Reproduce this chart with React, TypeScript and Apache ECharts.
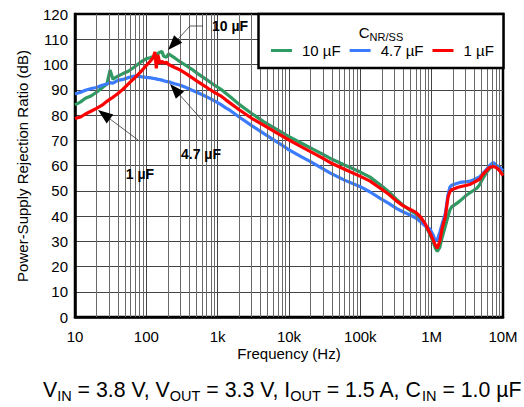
import React, { useEffect, useRef } from "react";
import * as echarts from "echarts";

// Frequency (Hz) shared by the three curves
const freqHz = [
  10, 12, 14, 17, 20, 24, 28, 31, 34, 40, 47, 56, 68, 82, 100, 115, 125, 132, 138, 145,
  155, 165, 175, 190, 205, 220, 250, 300, 360, 430, 520, 620, 750, 900, 1100, 1300, 1500, 2000, 3000, 4400,
  7000, 1e4, 1.5e4, 2e4, 3e4, 3.8e4, 6e4, 1e5, 1.37e5, 1.9e5, 2.5e5, 3.2e5, 4e5, 5e5, 6e5, 7e5, 8e5, 9.5e5, 1.05e6, 1.12e6,
  1.2e6, 1.3e6, 1.4e6, 1.55e6, 1.7e6, 1.8e6, 1.9e6, 2.3e6, 2.5e6, 3.1e6, 3.5e6, 4.3e6, 4.7e6, 5.2e6, 5.8e6, 6.5e6, 7.3e6, 8e6, 8.9e6, 1e7,
];

// PSRR (dB), C_NR/SS = 10 uF
const psrr10uF = [
  84.0, 85.2, 86.6, 87.6, 89.0, 90.8, 92.3, 97.8, 94.2, 95.4, 96.4, 97.3, 99.0, 100.8, 102.3, 102.8, 103.2, 103.5, 103.8, 104.3,
  104.9, 105.2, 103.3, 102.8, 104.2, 103.6, 102.6, 101.0, 99.6, 98.2, 96.5, 95.0, 93.4, 91.8, 90.3, 88.6, 87.2, 84.2, 80.6, 77.4,
  74.0, 71.4, 68.8, 67.0, 64.4, 62.8, 60.2, 57.4, 55.4, 52.4, 49.6, 46.7, 44.2, 42.2, 40.8, 39.0, 36.8, 32.6, 29.6, 27.4,
  26.0, 27.6, 31.4, 35.8, 40.0, 42.4, 43.6, 45.2, 46.0, 48.3, 49.3, 51.0, 52.4, 54.8, 57.0, 58.8, 60.2, 59.4, 58.2, 56.9,
];

// PSRR (dB), C_NR/SS = 4.7 uF
const psrr4p7uF = [
  88.3, 89.0, 89.8, 90.5, 90.9, 91.8, 92.3, 92.8, 92.6, 93.7, 94.1, 94.8, 95.4, 95.2, 94.9, 94.7, 94.5, 94.4, 94.3, 94.1,
  94.0, 93.8, 93.6, 93.3, 93.1, 92.9, 92.4, 91.8, 90.9, 89.9, 88.9, 87.9, 86.8, 85.6, 84.2, 82.8, 81.8, 79.2, 75.8, 72.7,
  69.1, 66.2, 63.4, 61.5, 58.7, 57.0, 54.2, 51.6, 49.5, 47.0, 45.0, 43.0, 41.6, 40.4, 39.2, 37.7, 36.2, 34.8, 32.4, 30.4,
  30.6, 33.6, 36.8, 40.8, 48.6, 51.4, 52.2, 53.0, 53.3, 53.6, 53.8, 55.0, 55.5, 56.8, 58.3, 60.0, 61.2, 60.2, 59.4, 58.0,
];

// PSRR (dB), C_NR/SS = 1 uF
const psrr1uF = [
  78.6, 79.2, 80.4, 81.6, 82.6, 83.9, 85.4, 86.3, 87.0, 88.5, 90.2, 92.3, 94.6, 96.9, 99.6, 101.5, 102.8, 105.0, 98.5, 103.8,
  100.4, 101.3, 100.6, 100.9, 100.0, 99.6, 98.8, 97.8, 96.4, 94.9, 93.3, 91.9, 90.4, 89.0, 87.6, 86.0, 84.7, 82.1, 78.7, 76.0,
  72.6, 70.1, 67.4, 65.5, 62.8, 61.1, 58.5, 55.7, 53.8, 51.0, 48.6, 46.0, 44.0, 42.6, 41.4, 39.6, 37.2, 33.2, 30.5, 28.6,
  27.2, 30.0, 35.0, 39.6, 47.6, 49.6, 50.4, 51.3, 51.6, 52.2, 52.6, 53.9, 54.6, 56.4, 57.9, 59.3, 59.6, 59.2, 58.1, 56.0,
];

const seriesNames = ["10 µF", "4.7 µF", "1 µF"];
const xTickLabels = ["10", "100", "1k", "10k", "100k", "1M", "10M"];
const decades = [10, 100, 1000, 1e4, 1e5, 1e6];
const minorMultipliers = [2, 3, 4, 5, 6, 7, 8, 9];

const FONT = '"Liberation Sans", Arial, Helvetica, sans-serif';
const GREEN = "#2f9a62";
const BLUE = "#3b7cff";
const RED = "#ff0000";

function arrow(tip: number[], tail: number[], len = 15, half = 5.5) {
  const dx = tail[0] - tip[0];
  const dy = tail[1] - tip[1];
  const d = Math.hypot(dx, dy);
  const ux = dx / d;
  const uy = dy / d;
  const bx = tip[0] + ux * len;
  const by = tip[1] + uy * len;
  return {
    base: [bx, by],
    pts: [tip, [bx - uy * half, by + ux * half], [bx + uy * half, by - ux * half]],
  };
}

function text(x: number, y: number, str: string, style: any, extra: any = {}) {
  const align = style.align || "left";
  const valign = style.verticalAlign || "middle";
  return {
    type: "text",
    x,
    y,
    z: 200,
    silent: true,
    ...extra,
    style: {
      text: str,
      fill: "#000",
      fontFamily: FONT,
      ...style,
      align,
      textAlign: align,
      verticalAlign: valign,
      textVerticalAlign: valign,
    },
  };
}

export default function App() {
  const ref = useRef<HTMLDivElement>(null);

  useEffect(() => {
    const chart = echarts.init(ref.current!, null, { renderer: "svg" });

    const minorGrid: number[] = [];
    decades.forEach((d) => minorMultipliers.forEach((k) => minorGrid.push(k * d)));

    const mk = (vals: number[]) => freqHz.map((f, i) => [f, vals[i]]);

    const a10 = arrow([168, 50], [190, 26]);
    const a47 = arrow([170, 84], [202, 120]);
    const a1 = arrow([98, 110], [138, 140]);
    const thin = { stroke: "#333", lineWidth: 0.8 };

    const graphics: any[] = [
      // legend box
      {
        type: "rect",
        z: 150,
        silent: true,
        shape: { x: 258.5, y: 14, width: 245, height: 54 },
        style: { fill: "#fff", stroke: "#000", lineWidth: 2.5 },
      },
      text(381, 23, "{c|C}{s|NR/SS}", {
        align: "center",
        verticalAlign: "top",
        rich: {
          c: { fontSize: 15, lineHeight: 19, fontFamily: FONT, fill: "#000", color: "#000" },
          s: { fontSize: 11, lineHeight: 10, verticalAlign: "bottom", fontFamily: FONT, fill: "#000", color: "#000" },
        },
      }),
      // annotations
      { type: "polyline", z: 120, silent: true, shape: { points: [a10.base, [190, 26], [203, 26]] }, style: { ...thin, fill: "none" } },
      { type: "polygon", z: 120, silent: true, shape: { points: a10.pts }, style: { fill: "#000" } },
      { type: "line", z: 120, silent: true, shape: { x1: a47.base[0], y1: a47.base[1], x2: 202, y2: 120 }, style: thin },
      { type: "polygon", z: 120, silent: true, shape: { points: a47.pts }, style: { fill: "#000" } },
      { type: "line", z: 120, silent: true, shape: { x1: a1.base[0], y1: a1.base[1], x2: 138, y2: 140 }, style: thin },
      { type: "polygon", z: 120, silent: true, shape: { points: a1.pts }, style: { fill: "#000" } },
      text(212, 26, "10 µF", { fontSize: 14, fontWeight: "bold" }),
      text(201, 154, "4.7 µF", { fontSize: 14, fontWeight: "bold", align: "center" }),
      text(140, 174, "1 µF", { fontSize: 14, fontWeight: "bold", align: "center" }),
      // axis titles
      text(22, 166, "Power-Supply Rejection Ratio (dB)", { fontSize: 15, align: "center" }, { rotation: Math.PI / 2 }),
      text(289, 353, "Frequency (Hz)", { fontSize: 15, lineHeight: 15, align: "center" }),
      // conditions
      text(43, 377, "{m|V}{s|IN}{m| = 3.8 V, V}{s|OUT}{m| = 3.3 V, I}{s|OUT}{m| = 1.5 A, C}{s|IN}{m| = 1.0 µF}", {
        verticalAlign: "top",
        rich: {
          m: { fontSize: 21.3, lineHeight: 26, fontFamily: FONT, fill: "#000", color: "#000" },
          s: { fontSize: 14.5, lineHeight: 15, verticalAlign: "bottom", fontFamily: FONT, fill: "#000", color: "#000" },
        },
      }),
    ];

    const lineSeries = (name: string, vals: number[], color: string, z: number) => ({
      name,
      type: "line",
      data: mk(vals),
      showSymbol: false,
      symbol: "none",
      color,
      lineStyle: { color, width: 3.2 },
      z,
      silent: true,
    });

    const option: any = {
      animation: false,
      backgroundColor: "#fff",
      textStyle: { fontFamily: FONT },
      grid: {
        left: 75,
        right: 21,
        top: 14,
        bottom: 90,
        show: true,
        borderColor: "#000",
        borderWidth: 2.5,
        backgroundColor: "transparent",
      },
      legend: {
        data: seriesNames,
        left: 271,
        top: 43,
        padding: 0,
        itemWidth: 21,
        itemHeight: 3,
        itemGap: 9,
        icon: "rect",
        z: 200,
        selectedMode: false,
        textStyle: { fontSize: 15, color: "#000", fontFamily: FONT, padding: [0, 0, 0, 5] },
      },
      xAxis: {
        type: "log",
        logBase: 10,
        min: 10,
        max: 1e7,
        splitNumber: 6,
        axisLine: { show: true, lineStyle: { color: "#000", width: 2.5 } },
        axisTick: { show: false },
        axisLabel: {
          margin: 12,
          fontSize: 15,
          lineHeight: 15,
          color: "#000",
          fontFamily: FONT,
          formatter: (v: number) => xTickLabels[Math.round(Math.log10(v)) - 1] ?? "",
        },
        splitLine: { show: true, showMinLine: false, showMaxLine: false, lineStyle: { color: "#444", width: 1 } },
      },
      yAxis: {
        type: "value",
        min: 0,
        max: 120,
        interval: 10,
        axisLine: { show: true, lineStyle: { color: "#000", width: 2.5 } },
        axisTick: { show: false },
        axisLabel: { margin: 7, fontSize: 15, color: "#000", fontFamily: FONT },
        splitLine: { show: true, showMinLine: false, showMaxLine: false, lineStyle: { color: "#444", width: 1 } },
      },
      series: [
        {
          name: "grid",
          type: "line",
          data: [],
          z: 1,
          silent: true,
          markLine: {
            silent: true,
            symbol: ["none", "none"],
            label: { show: false },
            animation: false,
            lineStyle: { color: "#6a6a6a", width: 1, type: "solid" },
            data: minorGrid.map((v) => ({ xAxis: v })),
          },
        },
        lineSeries(seriesNames[0], psrr10uF, GREEN, 3),
        lineSeries(seriesNames[1], psrr4p7uF, BLUE, 4),
        lineSeries(seriesNames[2], psrr1uF, RED, 5),
      ],
      graphic: { elements: graphics },
    };

    chart.setOption(option);
    return () => chart.dispose();
  }, []);

  return (
    <div
      ref={ref}
      style={{ position: "fixed", left: 0, top: 0, width: 524, height: 407, background: "#fff" }}
    />
  );
}
